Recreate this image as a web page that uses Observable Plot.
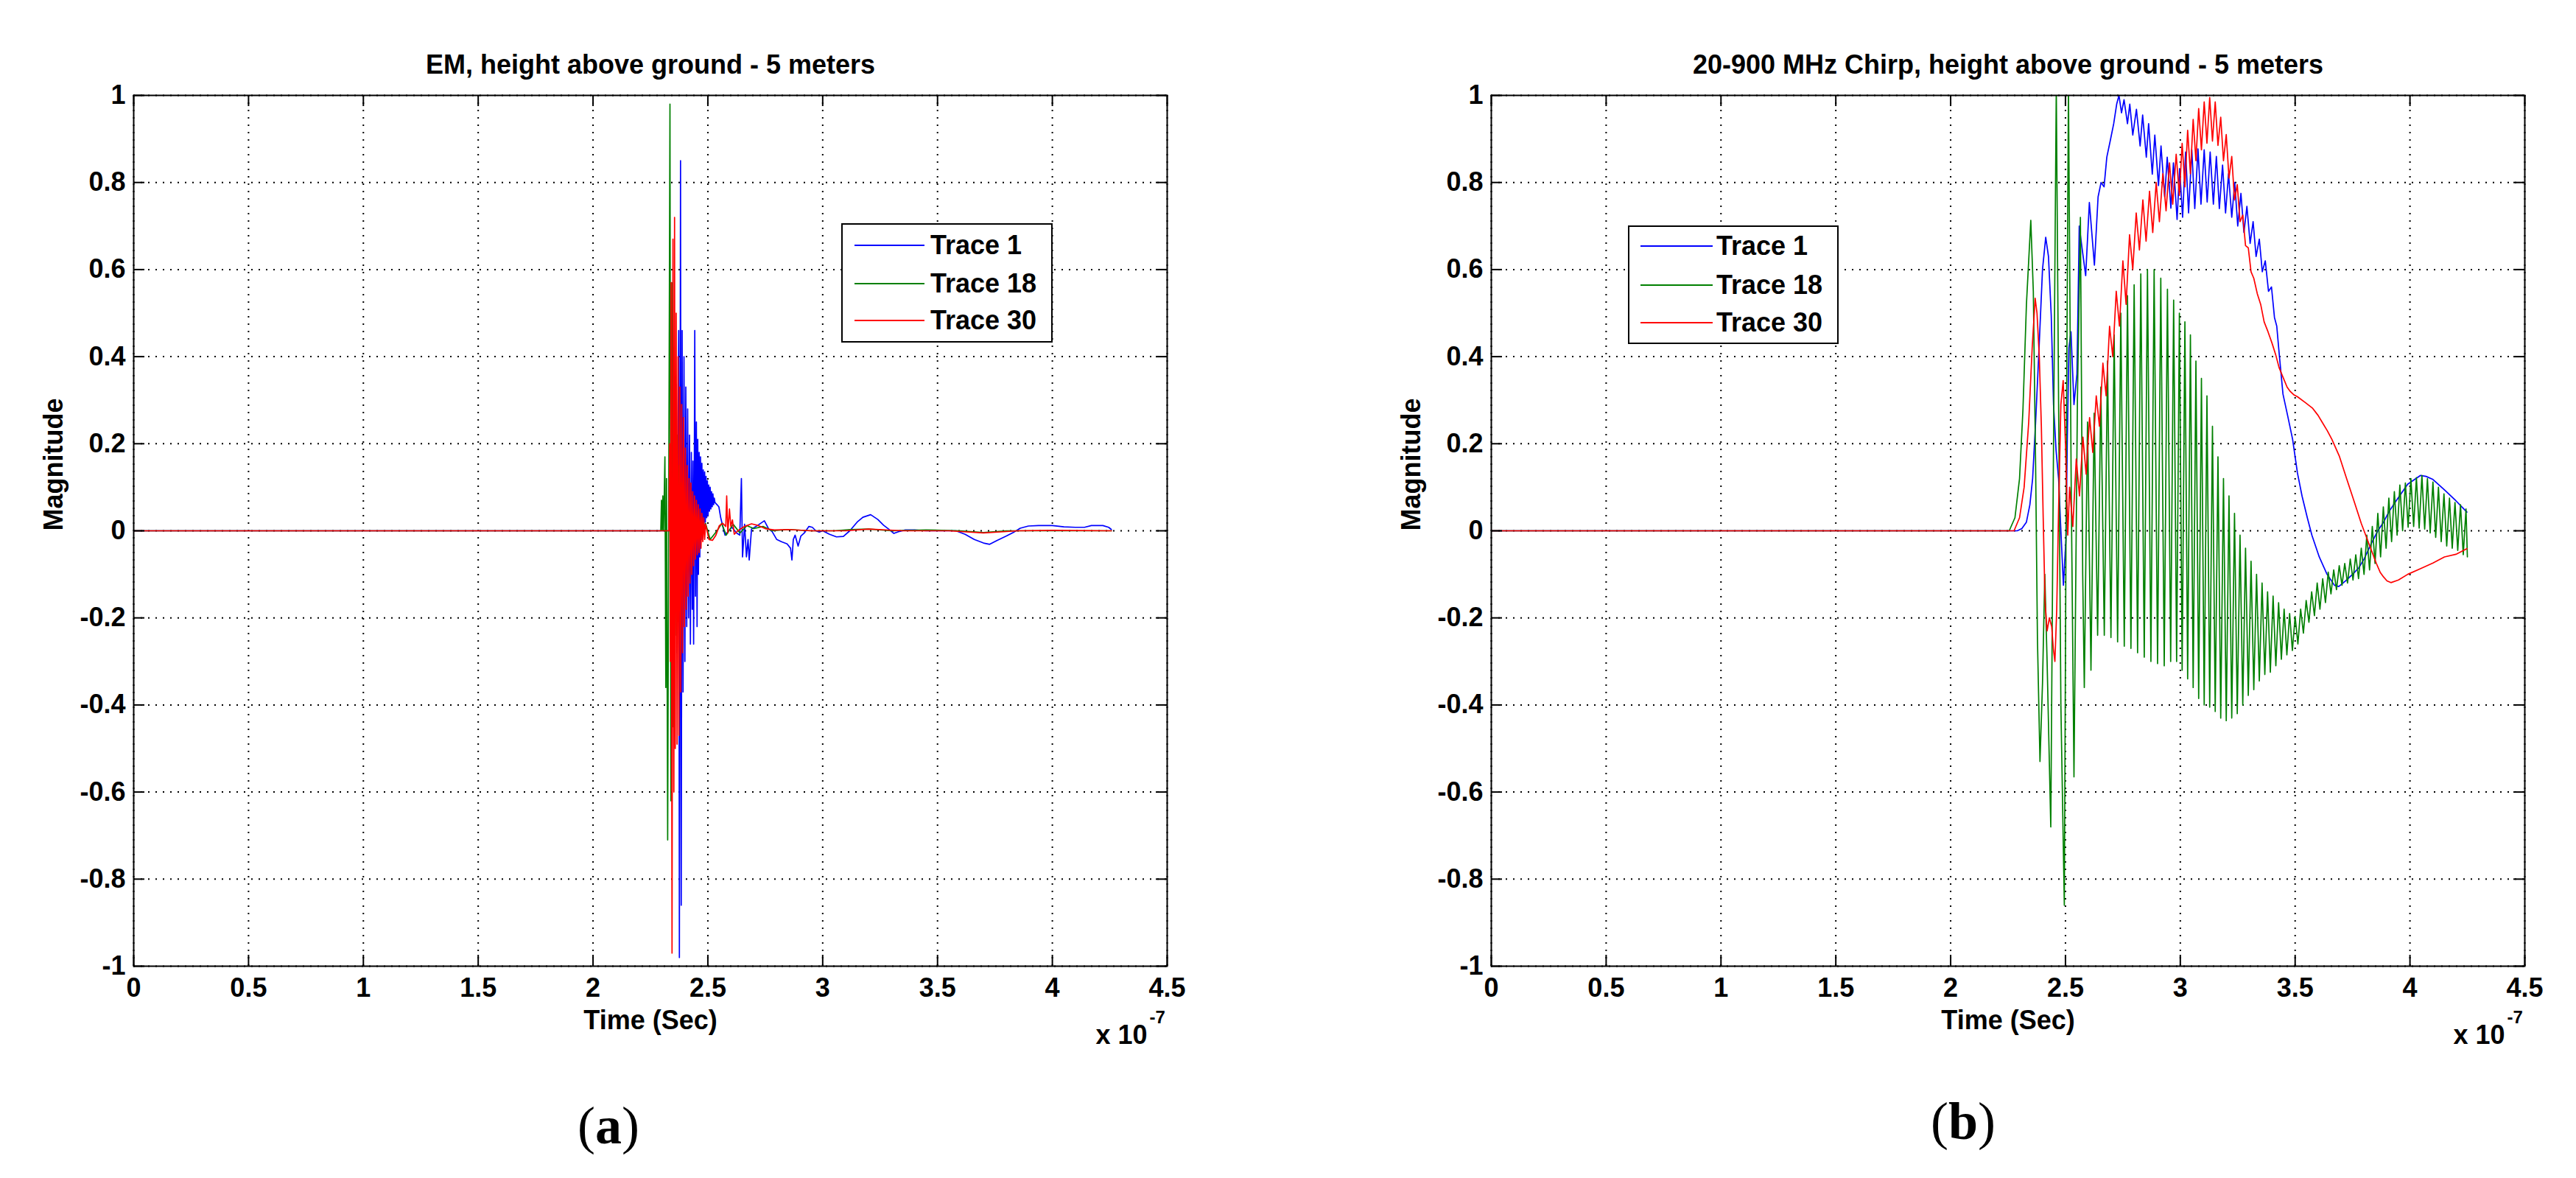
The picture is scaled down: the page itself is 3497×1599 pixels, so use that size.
<!DOCTYPE html>
<html>
<head>
<meta charset="utf-8">
<script src="https://cdn.jsdelivr.net/npm/d3@7"></script>
<script src="https://cdn.jsdelivr.net/npm/@observablehq/plot@0.6"></script>
<style>
html, body { margin: 0; padding: 0; background: #fff; overflow: hidden; }
#root { position: relative; width: 3497px; height: 1599px; background: #fff; overflow: hidden; }
.panel { position: absolute; top: 0; width: 1654px; height: 1599px; }
.panel svg { max-width: none !important; }
.legend { position: absolute; box-sizing: border-box; border: 2px solid #000; background: #fff;
  font-family: "Liberation Sans", Arial, sans-serif; font-weight: bold; font-size: 36px; color: #000; }
.legend .sw { position: absolute; height: 2px; }
.legend .lab { position: absolute; transform: translateY(-50%); white-space: nowrap; line-height: 1; }
.plabel { position: absolute; font-family: "Liberation Serif", "Times New Roman", serif; font-size: 72px;
  transform: translate(-50%, -50%); line-height: 1; white-space: nowrap; color: #000; }
</style>
</head>
<body>
<div id="root"></div>
<script>
// ---------------- data (time in units of 1e-7 s, magnitude) ----------------
const xTicks = [0, 0.5, 1, 1.5, 2, 2.5, 3, 3.5, 4, 4.5];
const yTicks = [-1, -0.8, -0.6, -0.4, -0.2, 0, 0.2, 0.4, 0.6, 0.8, 1];
const traceNames = ["Trace 1", "Trace 18", "Trace 30"];
const panelTitles = ["EM, height above ground - 5 meters", "20-900 MHz Chirp, height above ground - 5 meters"];
const panelLetters = ["a", "b"];
const xLabel = "Time (Sec)";
const yLabel = "Magnitude";

// Panel (a): EM
const emTrace1 = [[0,0],[2.362,0],
 [2.366,-0.28],[2.370,0.25],[2.373,0.46],[2.376,-0.98],[2.381,0.85],[2.384,-0.86],[2.388,0.46],[2.392,-0.37],
 [2.396,0.40],[2.400,-0.30],[2.404,0.33],[2.408,-0.22],[2.412,0.28],[2.416,-0.20],[2.420,0.22],[2.424,-0.26],
 [2.428,0.18],[2.432,-0.18],[2.435,0.16],[2.438,-0.26],[2.441,0.14],[2.443,0.46],[2.446,-0.15],[2.450,0.25],
 [2.453,-0.22],[2.456,0.21],[2.459,-0.10],[2.462,0.18],[2.465,-0.06],[2.468,0.17],[2.471,-0.02],[2.474,0.155],
 [2.477,0.0],[2.480,0.14],[2.483,0.01],[2.486,0.135],[2.489,0.02],[2.492,0.125],[2.495,0.03],[2.498,0.115],
 [2.501,0.035],[2.504,0.105],[2.507,0.045],[2.510,0.10],[2.513,0.05],[2.516,0.09],[2.519,0.055],[2.522,0.085],
 [2.525,0.06],[2.528,0.075],[2.531,0.065],
 [2.540,0.06],[2.548,0.055],[2.556,0.03],[2.565,0.01],[2.575,-0.01],[2.590,0.0],[2.605,0.008],[2.625,-0.005],
 [2.639,-0.01],[2.646,0.12],[2.651,-0.06],[2.660,0.015],[2.668,-0.06],[2.675,-0.02],[2.680,-0.067],[2.690,0.004],
 [2.710,0.01],[2.746,0.023],[2.765,0.004],[2.780,-0.002],[2.800,-0.02],[2.820,-0.025],[2.845,-0.03],[2.860,-0.04],
 [2.866,-0.067],[2.872,-0.02],[2.880,-0.01],[2.893,-0.035],[2.905,-0.012],[2.920,-0.005],[2.940,0.01],[2.955,0.008],
 [2.970,0.0],[2.985,-0.003],[3.000,0.0],[3.030,-0.008],[3.060,-0.014],[3.090,-0.013],[3.118,0.0],[3.150,0.02],
 [3.175,0.031],[3.209,0.037],[3.240,0.026],[3.265,0.013],[3.287,0.004],[3.310,-0.006],[3.330,-0.002],[3.360,0.002],
 [3.400,0.002],[3.450,0.0],[3.580,0.0],[3.620,-0.008],[3.660,-0.02],[3.700,-0.028],[3.727,-0.031],[3.760,-0.022],
 [3.800,-0.012],[3.830,-0.004],[3.860,0.006],[3.896,0.011],[3.940,0.012],[4.000,0.012],[4.050,0.009],[4.100,0.008],
 [4.140,0.008],[4.170,0.012],[4.220,0.012],[4.245,0.008],[4.257,0.003]];

const emTrace18 = [[0,0],[2.295,0],[2.298,0.07],[2.301,0.0],[2.304,0.08],[2.307,0.0],[2.310,0.08],[2.313,0.17],
 [2.317,-0.36],[2.320,0.12],[2.325,-0.71],[2.335,0.98],[2.339,-0.62],[2.343,0.57],[2.347,-0.45],[2.351,0.42],
 [2.355,-0.33],[2.359,0.30],[2.363,-0.24],[2.367,0.22],[2.371,-0.17],[2.375,0.15],[2.379,-0.12],[2.383,0.11],
 [2.387,-0.08],[2.391,0.08],[2.395,-0.06],[2.400,0.05],[2.405,-0.04],[2.410,0.04],[2.420,-0.03],[2.430,0.03],
 [2.440,-0.02],[2.455,0.02],[2.470,-0.01],[2.490,0.017],[2.510,-0.02],[2.540,0.0],[2.560,0.017],[2.580,-0.01],
 [2.610,0.015],[2.640,-0.005],[2.670,0.012],[2.700,0.005],[2.740,0.01],[2.780,0.0],[2.850,0.003],[2.950,0.0],
 [3.050,0.0],[3.120,0.003],[3.200,0.004],[3.300,0.0],[3.450,0.002],[3.600,0.0],[3.700,-0.004],[3.800,0.0],
 [4.000,0.0],[4.257,0.0]];

const emTrace30 = [[0,0],[2.330,0],[2.334,0.2],[2.337,-0.3],[2.340,0.57],[2.344,-0.97],[2.348,0.67],[2.352,-0.6],
 [2.355,0.72],[2.358,-0.5],[2.362,0.5],[2.366,-0.49],[2.370,0.40],[2.374,-0.47],[2.378,0.33],[2.382,-0.37],
 [2.386,0.29],[2.390,-0.28],[2.394,0.26],[2.398,-0.22],[2.402,0.19],[2.406,-0.18],[2.410,0.15],[2.414,-0.15],
 [2.418,0.12],[2.422,-0.12],[2.426,0.11],[2.430,-0.10],[2.434,0.09],[2.438,-0.08],[2.442,0.08],[2.446,-0.065],
 [2.450,0.07],[2.454,-0.055],[2.458,0.06],[2.462,-0.05],[2.466,0.05],[2.470,-0.04],[2.474,0.04],[2.478,-0.025],
 [2.482,0.03],[2.486,-0.02],[2.490,0.015],[2.505,-0.02],[2.520,-0.022],[2.535,-0.01],[2.550,0.012],[2.565,0.017],
 [2.578,0.01],[2.582,0.08],[2.587,-0.005],[2.594,0.05],[2.600,0.01],[2.607,0.025],[2.615,-0.008],[2.630,0.0],
 [2.660,0.01],[2.690,0.016],[2.720,0.012],[2.750,0.005],[2.790,0.002],[2.850,0.003],[2.950,0.0],[3.100,0.0],
 [3.200,0.004],[3.350,0.0],[3.550,0.0],[3.700,-0.005],[3.850,0.0],[4.000,0.001],[4.257,0.0]];

// Panel (b): 20-900 MHz chirp
const chirpTrace1 = [[0,0],[2.290,0],[2.310,0.005],[2.330,0.02],[2.345,0.06],[2.357,0.12],[2.370,0.25],[2.385,0.42],
 [2.400,0.60],[2.414,0.674],[2.426,0.63],[2.438,0.495],[2.448,0.29],[2.459,0.185],[2.470,0.12],[2.480,0.0],
 [2.491,-0.125],[2.502,-0.02],[2.508,0.21],[2.515,0.42],[2.524,0.457],[2.537,0.29],[2.550,0.36],[2.560,0.70],
 [2.572,0.65],[2.588,0.586],[2.604,0.754],[2.626,0.61],[2.642,0.767],[2.655,0.80],[2.668,0.79],[2.680,0.858],
 [2.695,0.896],[2.710,0.935],[2.723,0.98],[2.733,1.0],[2.744,0.96],[2.755,0.99],[2.770,0.935],[2.780,0.98],
 [2.793,0.909],[2.809,0.968],[2.825,0.884],[2.836,0.955],[2.852,0.858],[2.862,0.935],[2.878,0.819],[2.889,0.909],
 [2.905,0.793],[2.916,0.884],[2.932,0.767],[2.943,0.858],[2.959,0.741],[2.970,0.845],[2.986,0.715],[2.997,0.832],
 [3.010,0.72],[3.023,0.87],[3.036,0.73],[3.050,0.875],[3.063,0.74],[3.077,0.877],[3.090,0.75],[3.104,0.875],
 [3.117,0.755],[3.130,0.87],[3.144,0.75],[3.157,0.86],[3.170,0.74],[3.184,0.84],[3.197,0.73],[3.210,0.82],
 [3.224,0.72],[3.237,0.80],[3.250,0.70],[3.264,0.775],[3.277,0.685],[3.290,0.745],[3.304,0.66],[3.317,0.71],
 [3.330,0.63],[3.344,0.67],[3.357,0.595],[3.370,0.62],[3.384,0.55],[3.397,0.56],[3.410,0.49],[3.420,0.47],
 [3.430,0.41],[3.447,0.314],[3.468,0.263],[3.489,0.21],[3.510,0.133],[3.530,0.08],[3.553,0.03],[3.573,-0.01],
 [3.605,-0.06],[3.639,-0.10],[3.671,-0.125],[3.690,-0.128],[3.720,-0.115],[3.750,-0.10],[3.777,-0.085],[3.800,-0.065],
 [3.831,-0.03],[3.860,0.0],[3.885,0.02],[3.910,0.045],[3.940,0.069],[3.990,0.107],[4.045,0.127],[4.070,0.125],
 [4.100,0.118],[4.150,0.094],[4.200,0.069],[4.248,0.043]];

const chirpTrace18 = [[0,0],[2.255,0],[2.280,0.03],[2.300,0.12],[2.315,0.28],[2.330,0.52],[2.349,0.713],[2.360,0.55],
 [2.370,0.15],[2.378,-0.25],[2.389,-0.53],[2.400,-0.35],[2.410,-0.10],[2.420,-0.30],[2.436,-0.68],[2.448,0.2],
 [2.460,1.02],[2.470,0.3],[2.480,-0.4],[2.495,-0.86],[2.505,0.3],[2.513,1.02],[2.525,0.1],[2.537,-0.565],
 [2.552,0.3],[2.565,0.72],[2.575,-0.1],[2.582,-0.36],
 [2.596,0.25],[2.611,-0.32],[2.625,0.27],[2.640,-0.24],[2.654,0.33],[2.669,-0.24],[2.683,0.39],[2.698,-0.245],
 [2.712,0.45],[2.727,-0.255],[2.741,0.50],[2.756,-0.265],[2.770,0.54],[2.785,-0.27],[2.799,0.565],[2.814,-0.28],
 [2.828,0.59],[2.843,-0.29],[2.857,0.60],[2.872,-0.30],[2.886,0.60],[2.901,-0.305],[2.915,0.58],[2.930,-0.31],
 [2.944,0.555],[2.958,-0.30],[2.971,0.53],[2.984,-0.30],[2.996,0.50],[3.008,-0.32],[3.020,0.48],[3.032,-0.34],
 [3.044,0.45],[3.056,-0.36],[3.068,0.39],[3.080,-0.385],[3.092,0.35],[3.104,-0.40],[3.116,0.31],[3.128,-0.405],
 [3.140,0.24],[3.152,-0.415],[3.164,0.17],[3.176,-0.43],[3.188,0.12],[3.200,-0.436],[3.212,0.08],[3.224,-0.43],
 [3.236,0.04],[3.248,-0.42],[3.260,-0.01],[3.272,-0.40],[3.284,-0.04],[3.296,-0.378],[3.308,-0.07],[3.320,-0.365],
 [3.332,-0.10],[3.344,-0.345],[3.356,-0.12],[3.368,-0.33],[3.380,-0.14],[3.392,-0.325],[3.404,-0.15],[3.416,-0.31],
 [3.428,-0.165],[3.440,-0.295],[3.452,-0.18],[3.464,-0.285],[3.476,-0.19],[3.488,-0.275],[3.500,-0.197],[3.512,-0.26],
 [3.524,-0.18],[3.536,-0.235],[3.548,-0.16],[3.560,-0.21],[3.572,-0.14],[3.584,-0.195],[3.596,-0.12],[3.608,-0.18],
 [3.620,-0.11],[3.632,-0.165],[3.644,-0.095],[3.656,-0.145],[3.668,-0.09],[3.680,-0.135],[3.692,-0.08],[3.704,-0.125],
 [3.716,-0.075],[3.728,-0.12],[3.740,-0.065],[3.752,-0.113],[3.764,-0.055],[3.776,-0.11],[3.788,-0.04],[3.800,-0.10],
 [3.812,-0.01],[3.824,-0.09],[3.836,0.01],[3.848,-0.075],[3.860,0.04],[3.872,-0.06],[3.884,0.055],[3.896,-0.04],
 [3.908,0.075],[3.920,-0.025],[3.932,0.09],[3.944,-0.01],[3.956,0.105],[3.968,0.0],[3.980,0.11],[3.992,0.008],
 [4.004,0.12],[4.016,0.01],[4.028,0.122],[4.040,0.006],[4.052,0.127],[4.064,0.004],[4.076,0.12],[4.088,-0.005],
 [4.100,0.112],[4.112,-0.015],[4.124,0.10],[4.136,-0.025],[4.148,0.085],[4.160,-0.035],[4.172,0.075],[4.184,-0.04],
 [4.196,0.065],[4.208,-0.045],[4.220,0.06],[4.232,-0.055],[4.244,0.05],[4.250,-0.06]];

const chirpTrace30 = [[0,0],[2.276,0],[2.300,0.03],[2.320,0.10],[2.340,0.25],[2.355,0.42],[2.368,0.534],[2.376,0.50],
 [2.386,0.40],[2.395,0.24],[2.403,0.03],[2.411,-0.164],[2.420,-0.23],[2.430,-0.20],[2.440,-0.22],[2.447,-0.27],
 [2.454,-0.30],[2.462,-0.18],[2.470,0.05],[2.480,0.29],[2.490,0.345],[2.500,0.20],[2.510,-0.01],
 [2.518,0.10],[2.532,0.01],[2.547,0.165],[2.561,0.08],[2.576,0.215],[2.590,0.13],[2.605,0.26],[2.619,0.18],
 [2.634,0.31],[2.648,0.24],[2.663,0.385],[2.677,0.31],[2.692,0.47],[2.706,0.40],[2.721,0.55],[2.735,0.47],
 [2.750,0.62],[2.764,0.52],[2.779,0.68],[2.793,0.60],[2.808,0.73],[2.822,0.645],[2.837,0.76],[2.851,0.665],
 [2.866,0.78],[2.880,0.685],[2.895,0.80],[2.909,0.71],[2.924,0.82],[2.938,0.735],[2.953,0.845],[2.967,0.75],
 [2.982,0.865],[2.996,0.77],[3.008,0.89],[3.020,0.79],[3.032,0.92],[3.044,0.82],[3.056,0.945],[3.068,0.85],
 [3.080,0.97],[3.092,0.875],[3.104,0.985],[3.116,0.89],[3.128,0.995],[3.140,0.895],[3.152,0.985],[3.164,0.885],
 [3.176,0.95],[3.188,0.85],[3.200,0.91],[3.212,0.81],[3.224,0.86],[3.236,0.76],[3.248,0.795],[3.260,0.71],
 [3.272,0.725],[3.284,0.655],[3.296,0.65],[3.308,0.595],[3.320,0.58],[3.335,0.545],[3.350,0.52],[3.365,0.48],
 [3.382,0.457],[3.400,0.43],[3.415,0.405],[3.430,0.375],[3.447,0.353],[3.465,0.33],[3.479,0.32],[3.495,0.312],
 [3.510,0.308],[3.543,0.295],[3.575,0.282],[3.600,0.265],[3.617,0.25],[3.640,0.23],[3.660,0.21],[3.692,0.172],
 [3.724,0.12],[3.756,0.069],[3.788,0.017],[3.820,-0.028],[3.853,-0.074],[3.870,-0.095],[3.885,-0.106],[3.900,-0.115],
 [3.917,-0.119],[3.950,-0.113],[3.990,-0.10],[4.045,-0.087],[4.100,-0.074],[4.150,-0.06],[4.200,-0.054],[4.248,-0.041]];

const panelTraces = [[emTrace1, emTrace18, emTrace30], [chirpTrace1, chirpTrace18, chirpTrace30]];

// ---------------- styling / layout ----------------
const COLORS = ["#0000ff", "#008000", "#ff0000"];
const FONT = '"Liberation Sans", Arial, Helvetica, sans-serif';
const W = 1654, H = 1599, MT = 129, ML = 181, MR = 70, MB = 288;
const FW = W - ML - MR, FH = H - MT - MB, TICK = 15;
const panelLeft = [0, 1843];
const legendBoxes = [
  {left: 1142, top: 303, width: 287, height: 162, rows: [30, 82, 132], x1: 18, x2: 113, tx: 121},
  {left: 2210, top: 306, width: 286, height: 161, rows: [28, 81, 132], x1: 17, x2: 115, tx: 120}
];
const letterPos = [{x: 826, y: 1528}, {x: 2665, y: 1522}];

function drawPanel(title, traces) {
  const fmt = d => String(d);
  const txt = {fontSize: 36, fontWeight: "bold", fill: "#000"};
  const grid = {stroke: "#000", strokeOpacity: 1, strokeWidth: 2, strokeDasharray: "2,8"};
  const tk = {stroke: "#000", strokeWidth: 2};
  return Plot.plot({
    width: W, height: H,
    marginTop: MT, marginLeft: ML, marginRight: MR, marginBottom: MB,
    style: {background: "white", fontFamily: FONT, fontSize: "36px", fontWeight: "bold", color: "#000", overflow: "visible", maxWidth: "none"},
    x: {domain: [0, 4.5]},
    y: {domain: [-1, 1]},
    marks: [
      Plot.ruleX(xTicks, grid),
      Plot.ruleY(yTicks, grid),
      ...traces.map((tr, i) => Plot.line(tr, {x: d => d[0], y: d => d[1], stroke: COLORS[i], strokeWidth: 1.7, clip: true})),
      Plot.ruleX(xTicks, {...tk, insetTop: FH - TICK}),
      Plot.ruleX(xTicks, {...tk, insetBottom: FH - TICK}),
      Plot.ruleY(yTicks, {...tk, insetRight: FW - TICK}),
      Plot.ruleY(yTicks, {...tk, insetLeft: FW - TICK}),
      Plot.frame({stroke: "#000", strokeWidth: 2}),
      Plot.axisX(xTicks, {anchor: "bottom", tickSize: 0, tickPadding: 16, tickFormat: fmt, label: null, ...txt}),
      Plot.axisY(yTicks, {anchor: "left", tickSize: 0, tickPadding: 11, tickFormat: fmt, label: null, ...txt}),
      Plot.text([title], {text: d => d, frameAnchor: "top", dy: -41, lineAnchor: "middle", ...txt}),
      Plot.text([xLabel], {text: d => d, frameAnchor: "bottom", dy: 74, lineAnchor: "middle", ...txt}),
      Plot.text([yLabel], {text: d => d, frameAnchor: "left", dx: -108, rotate: -90, lineAnchor: "middle", ...txt}),
      Plot.text(["x 10"], {text: d => d, frameAnchor: "bottom-right", dx: -27, dy: 94, textAnchor: "end", lineAnchor: "middle", ...txt}),
      Plot.text(["-7"], {text: d => d, frameAnchor: "bottom-right", dx: -24, dy: 70, textAnchor: "start", lineAnchor: "middle", ...txt, fontSize: 24})
    ]
  });
}

const root = document.getElementById("root");
panelTitles.forEach((title, p) => {
  const div = document.createElement("div");
  div.className = "panel";
  div.style.left = panelLeft[p] + "px";
  div.appendChild(drawPanel(title, panelTraces[p]));
  root.appendChild(div);

  const lb = legendBoxes[p];
  const leg = document.createElement("div");
  leg.className = "legend";
  Object.assign(leg.style, {left: lb.left + "px", top: lb.top + "px", width: lb.width + "px", height: lb.height + "px"});
  traceNames.forEach((name, i) => {
    const sw = document.createElement("div");
    sw.className = "sw";
    Object.assign(sw.style, {left: (lb.x1 - 2) + "px", width: (lb.x2 - lb.x1) + "px", top: (lb.rows[i] - 3) + "px", background: COLORS[i]});
    leg.appendChild(sw);
    const lab = document.createElement("div");
    lab.className = "lab";
    lab.textContent = name;
    Object.assign(lab.style, {left: (lb.tx - 2) + "px", top: (lb.rows[i] - 2) + "px"});
    leg.appendChild(lab);
  });
  root.appendChild(leg);

  const pl = document.createElement("div");
  pl.className = "plabel";
  pl.style.left = letterPos[p].x + "px";
  pl.style.top = letterPos[p].y + "px";
  pl.append("(");
  const b = document.createElement("b");
  b.textContent = panelLetters[p];
  pl.append(b);
  pl.append(")");
  root.appendChild(pl);
});
</script>
</body>
</html>
